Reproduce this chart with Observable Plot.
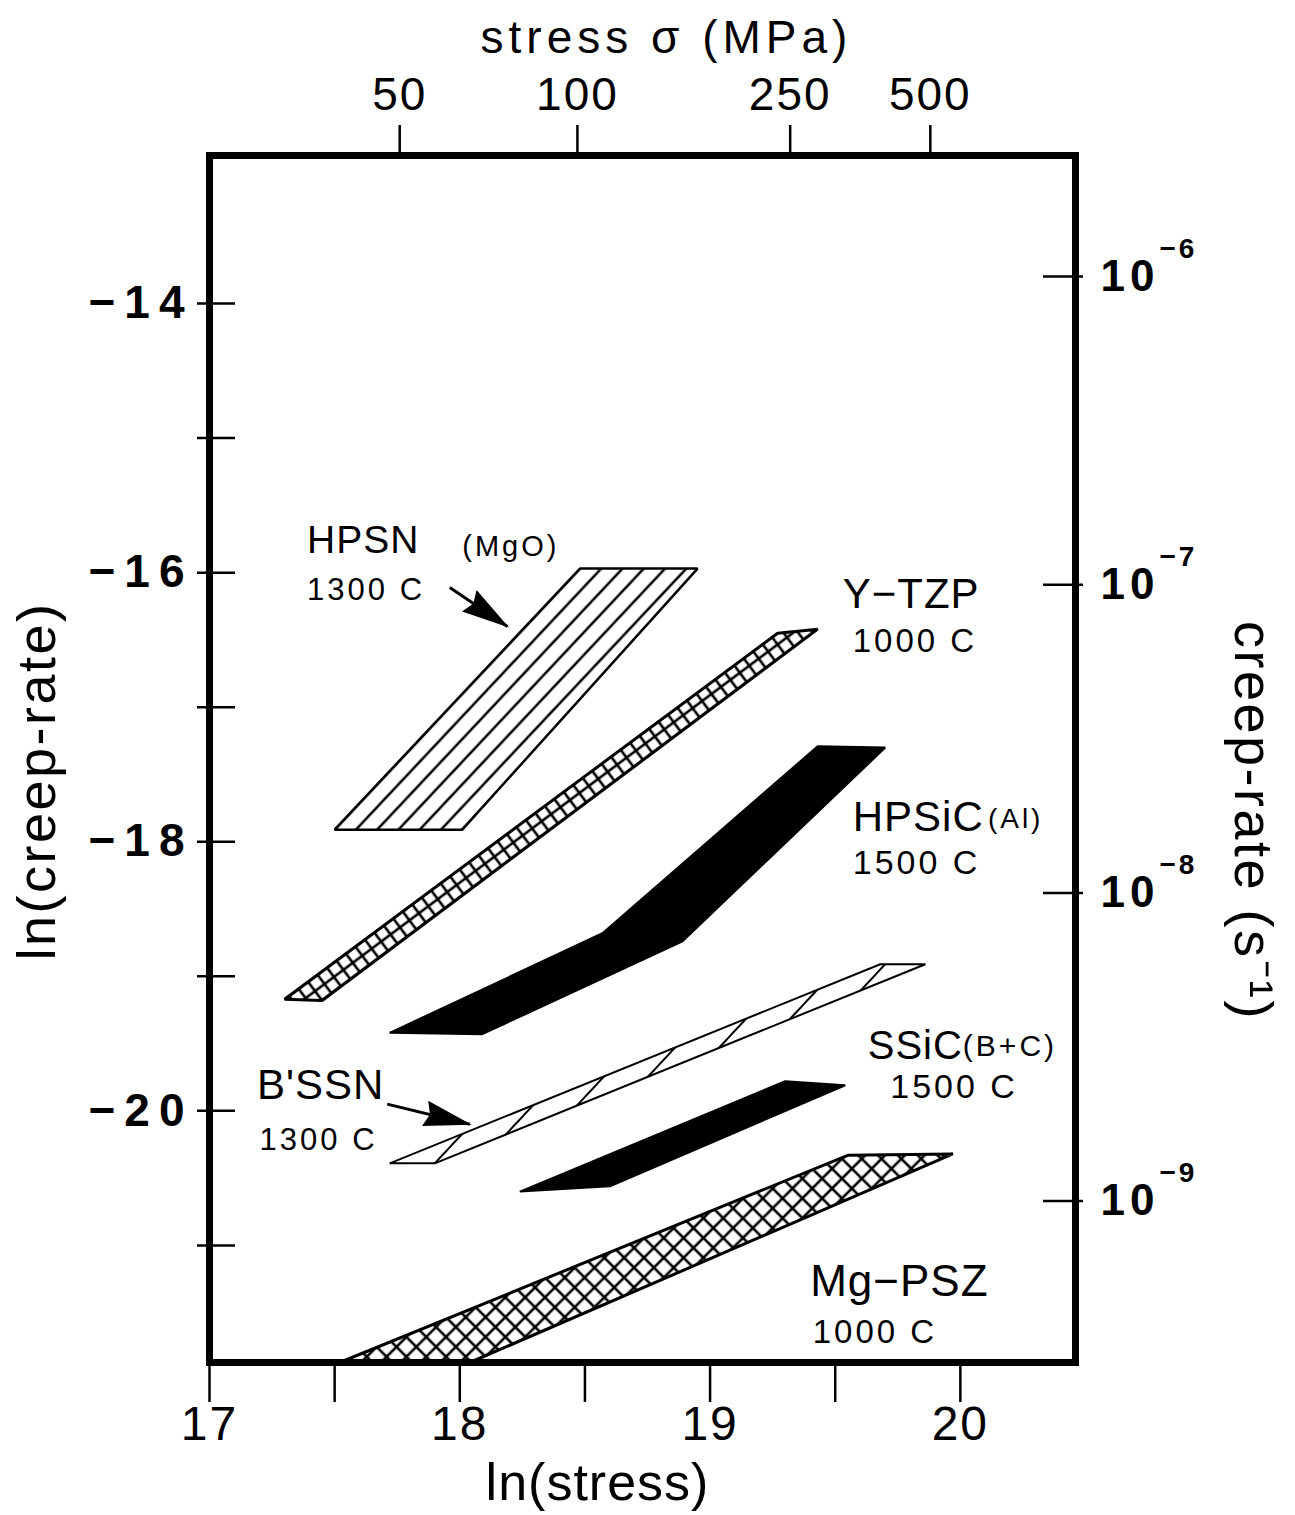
<!DOCTYPE html>
<html>
<head>
<meta charset="utf-8">
<script src="https://cdn.jsdelivr.net/npm/d3@7"></script>
<script src="https://cdn.jsdelivr.net/npm/@observablehq/plot@0.6"></script>
<style>
  html, body { margin: 0; padding: 0; background: #fff; }
  .ls1 text { letter-spacing: 1px; }
  .ls2 text { letter-spacing: 2px; }
  .ls25 text { letter-spacing: 2.5px; }
  .ls3 text { letter-spacing: 3px; }
  .ls5 text { letter-spacing: 5px; }
  .ls9 text { letter-spacing: 9px; }
</style>
</head>
<body>
<div id="chart"></div>
<script>
// ---------------- data ----------------
const xMajor = [17, 18, 19, 20];
const xMinor = [17.5, 18.5, 19.5];
const yMajor = [-14, -16, -18, -20];
const yMinor = [-15, -17, -19, -21];

const stressLabels = ["50", "100", "250", "500"];
const stressAt = [17.76, 18.47, 19.32, 19.88];          // ln(stress) where the MPa ticks sit

const rateExponents = ["−6", "−7", "−8", "−9"];
const rateAt = [-13.80, -16.09, -18.38, -20.67];       // ln(creep-rate) where the s⁻¹ ticks sit

// polygons: [ln(stress), ln(creep-rate)]
const hpsn  = [[17.50, -17.91], [18.01, -17.91], [18.95, -15.97], [18.48, -15.97]];
const ytzp  = [[17.30, -19.17], [17.45, -19.18], [19.43, -16.42], [19.27, -16.45]];
const hpsic = [[17.72, -19.42], [18.09, -19.43], [18.89, -18.74], [19.70, -17.30], [19.43, -17.29], [18.57, -18.68]];
const bssn  = [[17.72, -20.39], [17.90, -20.39], [19.86, -18.91], [19.68, -18.91]];
const ssic  = [[18.24, -20.60], [18.60, -20.56], [19.54, -19.81], [19.30, -19.78]];
const mgpsz = [[17.52, -21.87], [18.04, -21.87], [19.97, -20.32], [19.55, -20.33]];

const materialNames = ["HPSN", "Y−TZP", "HPSiC", "SSiC", "B'SSN", "Mg−PSZ"];
const materialTemps = ["1300 C", "1000 C", "1500 C", "1500 C", "1300 C", "1000 C"];
const materialAdditives = ["(MgO)", "(Al)", "(B+C)"];

// ---------------- layout ----------------
const W = 1295, H = 1515;
const mL = 209, mR = 220, mT = 155, mB = 153;
const frameW = W - mL - mR, frameH = H - mT - mB;

const namePos = [[17.39, -15.76, 39], [19.53, -16.16, 42], [19.57, -17.82, 42], [19.63, -19.52, 40], [17.19, -19.81, 42], [19.40, -21.27, 44]];
const tempPos = [[17.39, -16.13, 31], [19.57, -16.51, 33], [19.57, -18.16, 34], [19.72, -19.82, 34], [17.20, -20.22, 31], [19.41, -21.65, 33]];
const addPos  = [[18.01, -15.81, 29], [20.11, -17.83, 28], [20.01, -19.52, 30]];
const arrows = [
  {x1: 17.96, y1: -16.11, x2: 18.19, y2: -16.40},
  {x1: 17.71, y1: -19.95, x2: 18.04, y2: -20.10}
];

const toRows = pts => pts.map(([x, y]) => ({x, y}));
const ann = (texts, pos) => texts.map((t, i) => ({text: t, x: pos[i][0], y: pos[i][1], size: pos[i][2]}));

const shape = (pts, fill, sw) => Plot.line(toRows(pts), {
  x: "x", y: "y", curve: "linear-closed", fill, stroke: "black", strokeWidth: sw, strokeLinejoin: "miter"
});

const chart = Plot.plot({
  width: W, height: H,
  marginLeft: mL, marginRight: mR, marginTop: mT, marginBottom: mB,
  x: {domain: [17, 20.46], axis: null},
  y: {domain: [-21.87, -12.90], axis: null},
  style: {fontFamily: '"Liberation Sans", Arial, Helvetica, sans-serif', background: "white", color: "black", overflow: "visible"},
  marks: [
    shape(hpsn, "url(#patHPSN)", 2.5),
    shape(ytzp, "url(#patYTZP)", 3),
    shape(hpsic, "black", 2),
    shape(bssn, "url(#patBSSN)", 2),
    shape(ssic, "black", 2),
    shape(mgpsz, "url(#patMGPSZ)", 3),

    Plot.link(arrows, {x1: "x1", y1: "y1", x2: "x2", y2: "y2", stroke: "black", strokeWidth: 3, className: "ptr"}),

    // annotations
    Plot.text(ann(materialNames, namePos), {x: "x", y: "y", text: "text", fontSize: d => d.size, textAnchor: "start", lineAnchor: "middle", className: "ls1"}),
    Plot.text(ann(materialTemps, tempPos), {x: "x", y: "y", text: "text", fontSize: d => d.size, textAnchor: "start", lineAnchor: "middle", className: "ls3"}),
    Plot.text(ann(materialAdditives, addPos), {x: "x", y: "y", text: "text", fontSize: d => d.size, textAnchor: "start", lineAnchor: "middle", className: "ls3"}),

    // bottom axis
    Plot.ruleX([...xMajor, ...xMinor], {x: d => d, insetTop: frameH, insetBottom: -40, stroke: "black", strokeWidth: 2.5}),
    Plot.text(xMajor, {x: d => d, frameAnchor: "bottom", dy: 62, text: d => String(d), fontSize: 48, textAnchor: "middle", lineAnchor: "middle", className: "ls2"}),
    Plot.text(["ln(stress)"], {frameAnchor: "bottom", dx: -45, dy: 121, text: d => d, fontSize: 52, textAnchor: "middle", lineAnchor: "middle", className: "ls1"}),

    // top axis
    Plot.ruleX(stressAt, {x: d => d, insetTop: -30, insetBottom: frameH, stroke: "black", strokeWidth: 2.5}),
    Plot.text(stressLabels.map((l, i) => ({l, v: stressAt[i]})), {x: "v", frameAnchor: "top", dy: -60, text: "l", fontSize: 46, textAnchor: "middle", lineAnchor: "middle", className: "ls2"}),
    Plot.text(["stress σ (MPa)"], {frameAnchor: "top", dx: 24, dy: -117, text: d => d, fontSize: 46, textAnchor: "middle", lineAnchor: "middle", className: "ls5"}),

    // left axis
    Plot.ruleY([...yMajor, ...yMinor], {y: d => d, insetLeft: -12, insetRight: frameW - 26, stroke: "black", strokeWidth: 2.5}),
    Plot.text(yMajor, {y: d => d, frameAnchor: "left", dx: -16, text: d => "−" + Math.abs(d), textAnchor: "end", lineAnchor: "middle", fontSize: 46, fontWeight: "bold", className: "ls9"}),
    Plot.text(["ln(creep-rate)"], {frameAnchor: "left", dx: -172, dy: 22, rotate: -90, text: d => d, fontSize: 54, textAnchor: "middle", lineAnchor: "middle", className: "ls25"}),

    // right axis
    Plot.ruleY(rateAt, {y: d => d, insetLeft: frameW - 32, insetRight: -8, stroke: "black", strokeWidth: 2.5}),
    Plot.text(rateAt, {y: d => d, frameAnchor: "right", dx: 25, text: () => "10", textAnchor: "start", lineAnchor: "middle", fontSize: 44, fontWeight: "bold", className: "ls5"}),
    Plot.text(rateExponents.map((e, i) => ({e, v: rateAt[i]})), {y: "v", frameAnchor: "right", dx: 84, dy: -28, text: "e", textAnchor: "start", lineAnchor: "middle", fontSize: 28, fontWeight: "bold", className: "ls3"}),
    Plot.text(["creep-rate (s⁻¹)"], {frameAnchor: "right", dx: 177, dy: 62, rotate: 90, text: d => d, fontSize: 54, textAnchor: "middle", lineAnchor: "middle", className: "ls25"}),

    Plot.frame({stroke: "black", strokeWidth: 7})
  ]
});

document.getElementById("chart").appendChild(chart);

// ---------------- patterns & arrow heads (styling) ----------------
const sx = chart.scale("x"), sy = chart.scale("y");
const px = ([a, b]) => [sx.apply(a), sy.apply(b)];
const svg = d3.select(chart);
const defs = svg.insert("defs", ":first-child");
const rad = Math.PI / 180;

function linePattern(id, spacing, angle, offset, sw) {
  const p = defs.append("pattern").attr("id", id).attr("patternUnits", "userSpaceOnUse")
    .attr("width", spacing).attr("height", 40).attr("x", offset).attr("y", 0)
    .attr("patternTransform", `rotate(${angle / rad})`);
  p.append("rect").attr("width", spacing).attr("height", 40).attr("fill", "white");
  for (const x of [0, spacing]) {
    p.append("line").attr("x1", x).attr("x2", x).attr("y1", -1).attr("y2", 41)
      .attr("stroke", "black").attr("stroke-width", sw);
  }
}
function gridPattern(id, cell, angle, ox, oy, sw) {
  const p = defs.append("pattern").attr("id", id).attr("patternUnits", "userSpaceOnUse")
    .attr("width", cell).attr("height", cell).attr("x", ox).attr("y", oy)
    .attr("patternTransform", `rotate(${angle / rad})`);
  p.append("rect").attr("width", cell).attr("height", cell).attr("fill", "white");
  for (const v of [0, cell]) {
    p.append("line").attr("x1", v).attr("x2", v).attr("y1", -1).attr("y2", cell + 1).attr("stroke", "black").attr("stroke-width", sw);
    p.append("line").attr("y1", v).attr("y2", v).attr("x1", -1).attr("x2", cell + 1).attr("stroke", "black").attr("stroke-width", sw);
  }
}

// HPSN: lines parallel to the slanted sides, 6 intervals along the base
{
  const [blx, bly] = px(hpsn[0]), [brx] = px(hpsn[1]), [tlx, tly] = px(hpsn[3]);
  const th = Math.atan2(tlx - blx, bly - tly);
  const d = (brx - blx) / 6 * Math.cos(th);
  const off = blx * Math.cos(th) + bly * Math.sin(th);
  linePattern("patHPSN", d, th, off, 2.5);
}
// Y-TZP: square grid aligned with the band, two cells across
{
  const [ux, uy] = px(ytzp[0]), [ax, ay] = px(ytzp[1]), [bx, by] = px(ytzp[2]);
  const phi = Math.atan2(by - ay, bx - ax);
  const yl = -ax * Math.sin(phi) + ay * Math.cos(phi);
  const yu = -ux * Math.sin(phi) + uy * Math.cos(phi);
  const cell = Math.abs(yl - yu) / 2;
  const xl = ax * Math.cos(phi) + ay * Math.sin(phi);
  gridPattern("patYTZP", cell, phi, xl, Math.min(yl, yu), 2.6);
}
// B'SSN: sparse bars at ~47°, about 71 px apart along the band
{
  const [cx, cy] = px(bssn[1]), [ex, ey] = px(bssn[2]);
  const beta = Math.atan2(cy - ey, ex - cx);           // band slope
  const alpha = 47 * rad;                               // bar slope
  const th = Math.PI / 2 - alpha;
  const d = (71 / Math.cos(beta)) * Math.sin(alpha - beta);
  const off = cx * Math.cos(th) + cy * Math.sin(th);
  linePattern("patBSSN", d, th, off, 2);
}
// Mg-PSZ: diamond lattice
gridPattern("patMGPSZ", 14, 45 * rad, 0, 0, 2.6);

// filled arrow head
const marker = defs.append("marker").attr("id", "head").attr("markerUnits", "userSpaceOnUse")
  .attr("markerWidth", 48).attr("markerHeight", 28).attr("viewBox", "0 0 48 28")
  .attr("refX", 46).attr("refY", 14).attr("orient", "auto");
marker.append("path").attr("d", "M0,1 L48,14 L0,27 L5,14 Z").attr("fill", "black");
svg.selectAll(".ptr path").attr("marker-end", "url(#head)");
</script>
</body>
</html>
